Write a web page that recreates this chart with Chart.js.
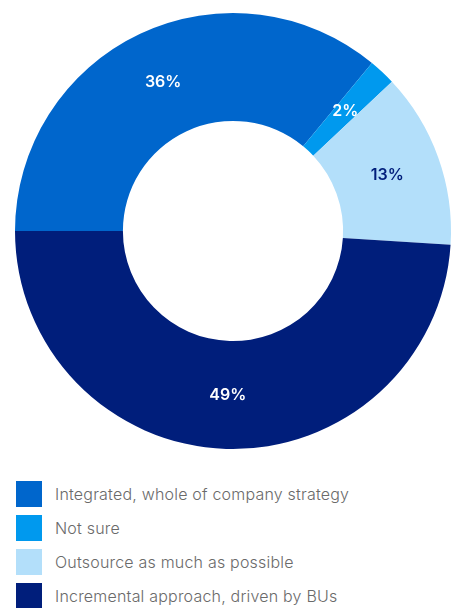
<!DOCTYPE html>
<html>
<head>
<meta charset="utf-8">
<script src="https://cdn.jsdelivr.net/npm/chart.js@4/dist/chart.umd.min.js"></script>
<style>
  html,body{margin:0;padding:0;background:#fff;width:459px;height:608px;overflow:hidden;font-family:Inter,"Noto Sans",sans-serif;}
  #wrap{position:absolute;left:0;top:0;width:459px;height:462px;}
  #legend{position:absolute;left:16px;top:481px;}
  .item{display:flex;align-items:center;height:26px;margin-bottom:8px;}
  .sw{width:26px;height:26px;flex:none;}
  .lbl{margin-left:13px;font-size:16px;color:#6a6a6a;font-weight:300;letter-spacing:0.2px;}
</style>
</head>
<body>
<div id="wrap"><canvas id="c" width="459" height="462"></canvas></div>
<div id="legend"></div>
<script>
const categories = ["Integrated, whole of company strategy", "Not sure", "Outsource as much as possible", "Incremental approach, driven by BUs"];
const values = [36, 2, 13, 49];
const colors = ["#0066CC", "#0099EE", "#B3DFFA", "#001E7B"];
const labelColors = ["#ffffff", "#ffffff", "#001E7B", "#ffffff"];

const leg = document.getElementById('legend');
categories.forEach((c, i) => {
  const d = document.createElement('div'); d.className = 'item';
  const s = document.createElement('div'); s.className = 'sw'; s.style.background = colors[i];
  const t = document.createElement('div'); t.className = 'lbl'; t.textContent = c;
  d.appendChild(s); d.appendChild(t); leg.appendChild(d);
});

const pctLabels = {
  id: 'pctLabels',
  afterDatasetsDraw(chart) {
    const ctx = chart.ctx;
    const meta = chart.getDatasetMeta(0);
    ctx.save();
    ctx.font = '600 16px Inter, "Noto Sans", sans-serif';
    ctx.textAlign = 'center';
    ctx.textBaseline = 'middle';
    meta.data.forEach((arc, i) => {
      const p = arc.getProps(['x','y','startAngle','endAngle','innerRadius','outerRadius'], true);
      const mid = (p.startAngle + p.endAngle) / 2;
      const r = (p.innerRadius + p.outerRadius) / 2;
      ctx.fillStyle = labelColors[i];
      ctx.fillText(values[i] + '%', p.x + Math.cos(mid) * r, p.y + Math.sin(mid) * r);
    });
    ctx.restore();
  }
};

new Chart(document.getElementById('c'), {
  type: 'doughnut',
  data: {
    labels: categories,
    datasets: [{ data: values, backgroundColor: colors, borderWidth: 0, hoverOffset: 0 }]
  },
  options: {
    responsive: false,
    animation: false,
    rotation: -90,
    cutout: '50.5%',
    layout: { padding: { top: 13, bottom: 13, left: 15, right: 8 } },
    plugins: { legend: { display: false }, tooltip: { enabled: false } }
  },
  plugins: [pctLabels]
});
</script>
</body>
</html>
